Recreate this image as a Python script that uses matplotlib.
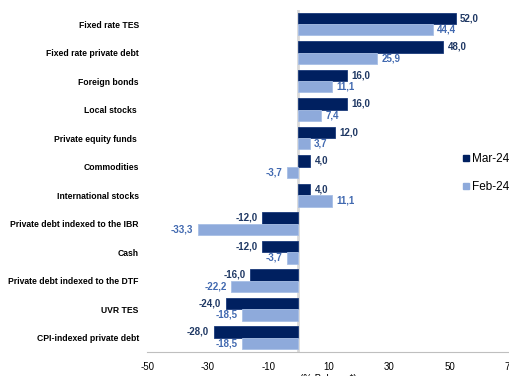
import matplotlib.pyplot as plt
import numpy as np

categories = ["Fixed rate TES", "Fixed rate private debt", "Foreign bonds", "Local stocks ",
              "Private equity funds ", "Commodities", "International stocks",
              "Private debt indexed to the IBR", "Cash", "Private debt indexed to the DTF",
              "UVR TES", "CPI-indexed private debt"]
mar24 = [52.0, 48.0, 16.0, 16.0, 12.0, 4.0, 4.0, -12.0, -12.0, -16.0, -24.0, -28.0]
feb24 = [44.4, 25.9, 11.1, 7.4, 3.7, -3.7, 11.1, -33.3, -3.7, -22.2, -18.5, -18.5]
xticks = [-50, -30, -10, 10, 30, 50, 70]

plt.rcParams["font.family"] = ["Liberation Sans", "DejaVu Sans"]

dark = "#002060"
light = "#8eaadb"
dark_txt = "#1f3864"
light_txt = "#4169b0"

fig = plt.figure(figsize=(5.09, 3.76), dpi=100)
ax = fig.add_axes([0.289, 0.064, 0.713, 0.91])

y = np.arange(len(categories))
h = 0.4
ax.barh(y - 0.2, mar24, height=h, color=dark, edgecolor="#1a3a7a", linewidth=0.6, label="Mar-24", zorder=2)
ax.barh(y + 0.2, feb24, height=h, color=light, edgecolor="#a8bfe6", linewidth=0.6, label="Feb-24", zorder=2)

# value labels
for yi, v in zip(y, mar24):
    s = f"{v:.1f}".replace(".", ",")
    if v >= 0:
        ax.text(v + 1.5, yi - 0.2, s, ha="left", va="center", fontsize=7, fontweight="bold", color=dark_txt)
    else:
        ax.text(v - 1.5, yi - 0.2, s, ha="right", va="center", fontsize=7, fontweight="bold", color=dark_txt)
for yi, v in zip(y, feb24):
    s = f"{v:.1f}".replace(".", ",")
    if v >= 0:
        ax.text(v + 1.5, yi + 0.2, s, ha="left", va="center", fontsize=7, fontweight="bold", color=light_txt)
    else:
        ax.text(v - 1.5, yi + 0.2, s, ha="right", va="center", fontsize=7, fontweight="bold", color=light_txt)

ax.axvline(0, color="#d9d9d9", linewidth=2, zorder=1)

ax.set_xlim(-50, 70)
ax.set_ylim(len(categories) - 0.5, -0.5)
ax.set_xticks(xticks)
ax.set_xticklabels([str(t) for t in xticks], fontsize=7)
ax.set_yticks(y)
ax.set_yticklabels(categories, fontsize=6.2, fontweight="bold")
ax.tick_params(axis="y", length=0, pad=6)
ax.tick_params(axis="x", length=0, pad=7)
for sp in ["top", "right", "left"]:
    ax.spines[sp].set_visible(False)
ax.spines["bottom"].set_color("#bfbfbf")
ax.set_xlabel("(% Balance*)", fontsize=7, labelpad=2)

handles = [plt.Line2D([], [], marker="s", linestyle="", color=dark, markersize=5),
           plt.Line2D([], [], marker="s", linestyle="", color=light, markersize=5)]
fig.legend(handles, ["Mar-24", "Feb-24"], loc="center left", bbox_to_anchor=(0.897, 0.54),
           frameon=False, fontsize=8.5, handletextpad=0.1, labelspacing=1.3, handlelength=0.8,
           borderaxespad=0)

fig.savefig("out.png", dpi=100)
